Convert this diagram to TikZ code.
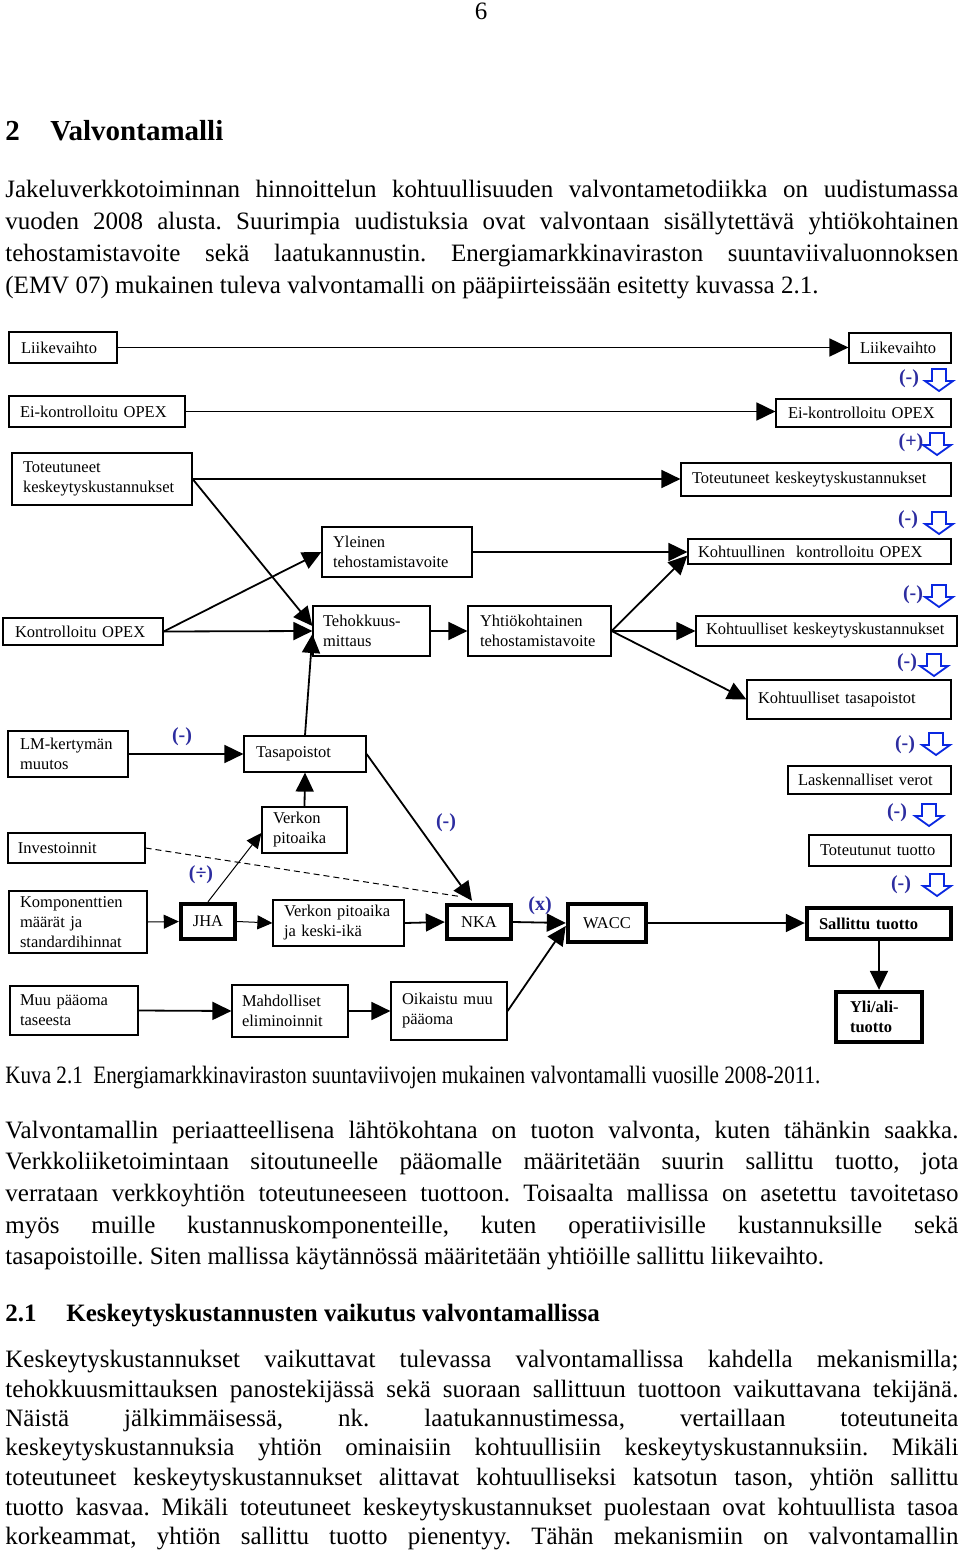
\documentclass[tikz,border=0pt]{standalone}
\usepackage{graphicx}
\usepackage{fontspec}
\setmainfont{Liberation Serif}
\usetikzlibrary{arrows.meta,calc}
\frenchspacing
\definecolor{lblue}{RGB}{45,45,160}
\definecolor{ablue}{RGB}{10,40,225}
\newcommand\bodyf{\fontsize{12.5}{16}\selectfont}
\newcommand\diaf{\fontsize{8.25}{10}\selectfont}
\newcommand\jl[1]{\makebox[476.5pt][s]{#1}}
\tikzset{
  box/.style={draw, line width=0.6pt, inner sep=0pt, align=left, font=\diaf},
  tbox/.style={box, line width=2.2pt},
  conn/.style={line width=0.9pt, -{Triangle[length=9.5pt,width=9pt]}},
  thinconn/.style={line width=0.5pt, -{Triangle[length=7.5pt,width=7pt]}},
  sign/.style={text=lblue, font=\fontsize{10}{12}\selectfont\bfseries, inner sep=0pt},
  para/.style={anchor=base west, inner sep=0pt, font=\bodyf},
  harrow/.pic={\draw[ablue, line width=0.9pt, line join=miter] (-7,0) -- (7,0) -- (7,12) -- (14,12) -- (0,22) -- (-14,12) -- (-7,12) -- cycle;}
}
\begin{document}
\begin{tikzpicture}[x=0.5pt,y=-0.5pt]
\useasboundingbox (0,0) rectangle (960,1551);
\fill[white] (0,0) rectangle (960,1551);

% page number and heading
\node[anchor=base, inner sep=0pt, font=\bodyf] (pg) at (481,20) {6};
\node[anchor=base west, inner sep=0pt, font=\fontsize{14.5}{17}\selectfont\bfseries] (h2) at (5,141) {\makebox[22.5pt][l]{2}Valvontamalli};

% paragraph 1
\node[para] (p1a) at (5,198) {\jl{Jakeluverkkotoiminnan hinnoittelun kohtuullisuuden valvontametodiikka on uudistumassa}};
\node[para] (p1b) at (5,230) {\jl{vuoden 2008 alusta. Suurimpia uudistuksia ovat valvontaan sisällytettävä yhtiökohtainen}};
\node[para] (p1c) at (5,262) {\jl{tehostamistavoite sekä laatukannustin. Energiamarkkinaviraston suuntaviivaluonnoksen}};
\node[para] (p1d) at (5,294) {(EMV 07) mukainen tuleva valvontamalli on pääpiirteissään esitetty kuvassa 2.1.};

% ---------- diagram boxes ----------
\node[box, minimum width=54pt, minimum height=15.5pt, text width=42pt] (lk1) at (63,347.5) {Liikevaihto};
\node[box, minimum width=88pt, minimum height=15.5pt, text width=77pt] (eo1) at (97,411.5) {\mbox{Ei-kontrolloitu OPEX}};
\node[box, minimum width=90pt, minimum height=26pt, text width=79pt] (tk1) at (102,479) {Toteutuneet\\keskeytyskustannukset};
\node[box, minimum width=51pt, minimum height=15pt, text width=40pt] (lk2) at (900,348) {Liikevaihto};
\node[box, minimum width=87.5pt, minimum height=14pt, text width=75.5pt] (eo2) at (863.5,413) {\mbox{Ei-kontrolloitu OPEX}};
\node[box, minimum width=135pt, minimum height=16.5pt, text width=124pt] (tk2) at (816,479.5) {\mbox{Toteutuneet keskeytyskustannukset}};
\node[box, minimum width=131.5pt, minimum height=12.5pt, text width=121.5pt] (ko) at (819.5,551.5) {\mbox{Kohtuullinen\ \ kontrolloitu OPEX}};
\node[box, minimum width=130.5pt, minimum height=15pt, text width=120.5pt] (kk) at (826.5,631) {\mbox{Kohtuulliset keskeytyskustannukset}};
\node[box, minimum width=102pt, minimum height=19.5pt, text width=91pt] (kt) at (849,699.5) {\mbox{Kohtuulliset tasapoistot}};
\node[box, minimum width=81.5pt, minimum height=14pt, text width=71.5pt] (lv) at (869.5,780) {\mbox{Laskennalliset verot}};
\node[box, minimum width=71pt, minimum height=15.5pt, text width=60pt] (tt) at (880,850.5) {\mbox{Toteutunut tuotto}};
\node[tbox, minimum width=72pt, minimum height=15.5pt, text width=60pt, font=\diaf\bfseries] (st) at (879,923.5) {\mbox{Sallittu tuotto}};
\node[tbox, minimum width=43pt, minimum height=25pt, text width=29pt, font=\diaf\bfseries] (ya) at (879,1017) {Yli/ali-\\tuotto};

\node[box, minimum width=80pt, minimum height=13.5pt, text width=68pt] (ko2) at (83,631.5) {\mbox{Kontrolloitu OPEX}};
\node[box, minimum width=75pt, minimum height=25pt, text width=64pt] (yt) at (397,552) {Yleinen\\tehostamistavoite};
\node[box, minimum width=58.5pt, minimum height=25pt, text width=48.5pt] (tm) at (371.5,631) {Tehokkuus-\\mittaus};
\node[box, minimum width=71.5pt, minimum height=25pt, text width=59.5pt] (yk) at (539.5,631) {Yhtiökohtainen\\tehostamistavoite};

\node[box, minimum width=60pt, minimum height=23pt, text width=48pt] (lm) at (68,754) {LM-kertymän\\muutos};
\node[box, minimum width=61pt, minimum height=18pt, text width=49pt] (tp) at (305,754) {Tasapoistot};
\node[box, minimum width=42.5pt, minimum height=23pt, text width=31.5pt] (vp) at (304.5,830) {Verkon\\pitoaika};
\node[box, minimum width=68.5pt, minimum height=15pt, text width=58.5pt] (inv) at (76.5,848) {Investoinnit};
\node[box, minimum width=69pt, minimum height=31pt, text width=58pt] (kp) at (78,922) {Komponenttien\\\mbox{määrät ja}\\standardihinnat};
\node[tbox, minimum width=27pt, minimum height=17.5pt, align=center] (jha) at (208,921.5) {JHA};
\node[box, minimum width=65.5pt, minimum height=23pt, text width=54.5pt] (vk) at (338.5,923) {\mbox{Verkon pitoaika}\\\mbox{ja keski-ikä}};
\node[tbox, minimum width=32pt, minimum height=17pt, align=center] (nka) at (479,922) {NKA};
\node[tbox, minimum width=39pt, minimum height=19pt, align=center] (wacc) at (607,923) {WACC};

\node[box, minimum width=64pt, minimum height=24.5pt, text width=54pt] (mp) at (74,1010.5) {\mbox{Muu pääoma}\\taseesta};
\node[box, minimum width=58pt, minimum height=26pt, text width=48pt] (me) at (290,1011) {Mahdolliset\\eliminoinnit};
\node[box, minimum width=58pt, minimum height=29pt, text width=47pt] (op) at (449,1011) {\mbox{Oikaistu muu}\\pääoma};

% ---------- connectors ----------
\draw[conn] (lk1.east) -- (lk1.east -| lk2.west);
\draw[conn] (eo1.east) -- (eo1.east -| eo2.west);
\draw[conn] (tk1.east) -- (tk1.east -| tk2.west);
\coordinate (tmA) at ($(tm.west)+(0,-5)$);
\coordinate (tmC) at ($(tm.west)+(0,3)$);
\draw[conn] (tk1.east) -- (tmA);
\draw[conn] (ko2.east) -- (tm.west);
\draw[conn] (ko2.east) -- (yt.west);
\draw[conn] (tp.north) -- (tmC);
\draw[conn] (yt.east) -- (yt.east -| ko.west);
\draw[conn] (tm.east) -- (yk.west);
\coordinate (koB) at ($(ko.west)+(0,4)$);
\draw[conn] (yk.east) -- (koB);
\draw[conn] (yk.east) -- (kk.west);
\draw[conn] (yk.east) -- (kt.west);
\draw[conn] (lm.east) -- (tp.west);
\draw[conn] (vp.north) -- (tp.south);
\coordinate (nkaT) at ($(nka.north)+(-7,-2)$);
\draw[conn] (tp.east) -- (nkaT);
\coordinate (nkaD) at ($(nka.north west)+(17,-6)$);
\draw[dash pattern=on 3pt off 2pt, line width=0.5pt] (inv.east) -- (nkaD);
\draw[thinconn] (kp.east) -- (jha.west);
\coordinate (vpL) at ($(vp.west)+(0,3)$);
\draw[thinconn] (jha.north) -- (vpL);
\draw[thinconn] (jha.east) -- (vk.west);
\draw[conn] (vk.east) -- (nka.west);
\draw[conn] (nka.east) -- (wacc.west);
\coordinate (waccB) at ($(wacc.west)+(0,3)$);
\draw[conn] (op.east) -- (waccB);
\draw[conn] (wacc.east) -- (wacc.east -| st.west);
\draw[conn] (st.south) -- (ya.north);
\draw[conn] (mp.east) -- (me.west);
\draw[conn] (me.east) -- (op.west);

% ---------- signs ----------
\node[sign] (s1) at (909,379) {(-)};
\node[sign] (s2) at (911,443) {(+)};
\node[sign] (s3) at (908,520) {(-)};
\node[sign] (s4) at (913,595) {(-)};
\node[sign] (s5) at (907,663) {(-)};
\node[sign] (s6) at (905,745) {(-)};
\node[sign] (s7) at (897,813) {(-)};
\node[sign] (s8) at (901,885) {(-)};
\node[sign] (s9) at (182,737) {(-)};
\node[sign] (s10) at (201,875) {(÷)};
\node[sign] (s11) at (446,823) {(-)};
\node[sign] (s12) at (540,906) {(x)};

\pic at (939,369) {harrow};
\pic at (937,433) {harrow};
\pic at (939,512) {harrow};
\pic at (939,585) {harrow};
\pic at (934,654) {harrow};
\pic at (936,733) {harrow};
\pic at (929,804) {harrow};
\pic at (937,874) {harrow};

% caption
\node[para] (cap) at (5,1083) {\resizebox{407.5pt}{\height}{Kuva 2.1\ \ Energiamarkkinaviraston suuntaviivojen mukainen valvontamalli vuosille 2008-2011.}};

% paragraph 2
\node[para] (p2a) at (5,1138) {\jl{Valvontamallin periaatteellisena lähtökohtana on tuoton valvonta, kuten tähänkin saakka.}};
\node[para] (p2b) at (5,1169) {\jl{Verkkoliiketoimintaan sitoutuneelle pääomalle määritetään suurin sallittu tuotto, jota}};
\node[para] (p2c) at (5,1201) {\jl{verrataan verkkoyhtiön toteutuneeseen tuottoon. Toisaalta mallissa on asetettu tavoitetaso}};
\node[para] (p2d) at (5,1233) {\jl{myös muille kustannuskomponenteille, kuten operatiivisille kustannuksille sekä}};
\node[para] (p2e) at (5,1264) {tasapoistoille. Siten mallissa käytännössä määritetään yhtiöille sallittu liikevaihto.};

% section 2.1
\node[anchor=base west, inner sep=0pt, font=\fontsize{12.5}{15}\selectfont\bfseries] (h21) at (5,1321) {\makebox[30.5pt][l]{2.1}Keskeytyskustannusten vaikutus valvontamallissa};

% paragraph 3
\node[para] (p3a) at (5,1367) {\jl{Keskeytyskustannukset vaikuttavat tulevassa valvontamallissa kahdella mekanismilla;}};
\node[para] (p3b) at (5,1397) {\jl{tehokkuusmittauksen panostekijässä sekä suoraan sallittuun tuottoon vaikuttavana tekijänä.}};
\node[para] (p3c) at (5,1426) {\jl{Näistä jälkimmäisessä, nk. laatukannustimessa, vertaillaan toteutuneita}};
\node[para] (p3d) at (5,1455) {\jl{keskeytyskustannuksia yhtiön ominaisiin kohtuullisiin keskeytyskustannuksiin. Mikäli}};
\node[para] (p3e) at (5,1485) {\jl{toteutuneet keskeytyskustannukset alittavat kohtuulliseksi katsotun tason, yhtiön sallittu}};
\node[para] (p3f) at (5,1515) {\jl{tuotto kasvaa. Mikäli toteutuneet keskeytyskustannukset puolestaan ovat kohtuullista tasoa}};
\node[para] (p3g) at (5,1544) {\jl{korkeammat, yhtiön sallittu tuotto pienentyy. Tähän mekanismiin on valvontamallin}};
\end{tikzpicture}
\end{document}
